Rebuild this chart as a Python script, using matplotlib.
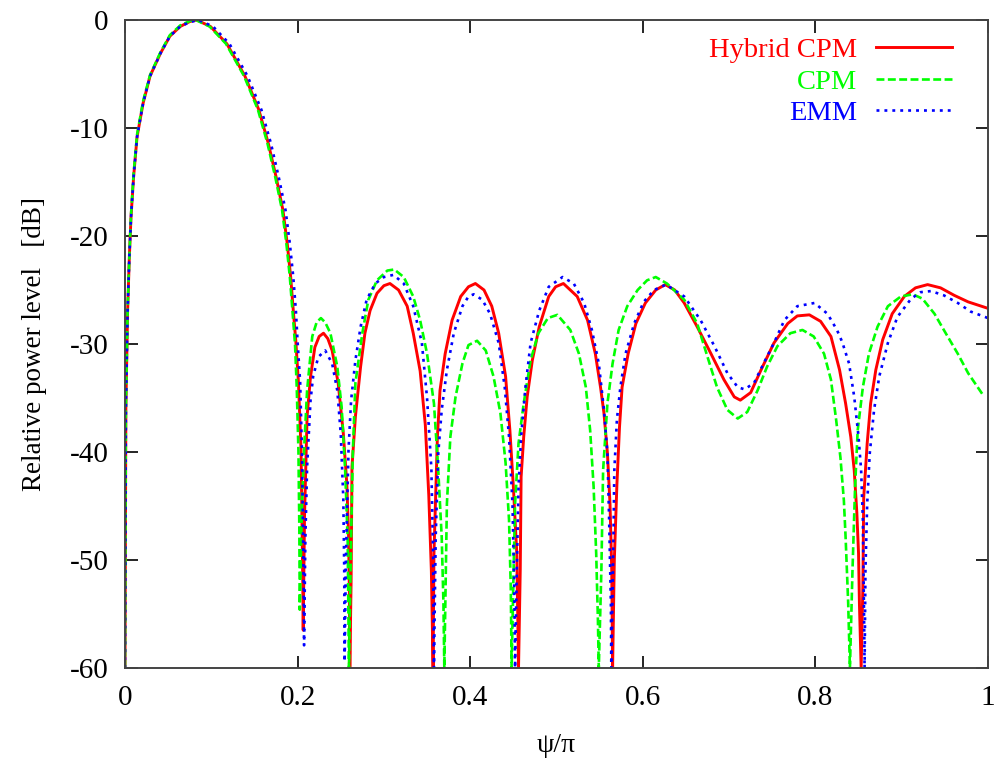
import matplotlib
matplotlib.use("Agg")
import matplotlib.pyplot as plt

plt.rcParams["font.family"] = ["Liberation Serif", "DejaVu Serif"]
plt.rcParams["axes.unicode_minus"] = False

# ---------------------------------------------------------------------------
# Data (x = psi/pi, y = relative level in dB)
# ---------------------------------------------------------------------------

hyb_x = [0.000, 0.001, 0.003, 0.005, 0.007, 0.010, 0.014, 0.021, 0.029, 0.041,
         0.052, 0.064, 0.075, 0.083, 0.099, 0.118, 0.139, 0.155, 0.166, 0.175,
         0.183, 0.188, 0.192, 0.195, 0.198, 0.201, 0.204, 0.205, 0.206, 0.2065,
         0.208, 0.209, 0.211, 0.215, 0.220, 0.225, 0.230, 0.235, 0.240, 0.247,
         0.253, 0.257, 0.259, 0.260, 0.2605, 0.262, 0.263, 0.267, 0.273, 0.278,
         0.284, 0.292, 0.300, 0.307, 0.317, 0.327, 0.334, 0.342, 0.348, 0.352,
         0.355, 0.357, 0.358, 0.362, 0.365, 0.371, 0.379, 0.389, 0.398, 0.406,
         0.416, 0.425, 0.433, 0.441, 0.446, 0.450, 0.454, 0.456, 0.458, 0.459,
         0.462, 0.466, 0.472, 0.480, 0.491, 0.499, 0.508, 0.524, 0.536, 0.545,
         0.551, 0.555, 0.559, 0.562, 0.564, 0.565, 0.567, 0.570, 0.573, 0.576,
         0.583, 0.592, 0.603, 0.615, 0.626, 0.637, 0.648, 0.663, 0.679, 0.694,
         0.706, 0.713, 0.725, 0.737, 0.752, 0.768, 0.779, 0.793, 0.806, 0.818,
         0.828, 0.835, 0.841, 0.845, 0.848, 0.850, 0.851, 0.853, 0.855, 0.856,
         0.860, 0.864, 0.870, 0.878, 0.889, 0.903, 0.916, 0.930, 0.945, 0.961,
         0.977, 1.000]
hyb_db = [-60, -36, -27, -22, -18.2, -14.5, -10.8, -7.7, -5.2, -3.1,
          -1.5, -0.6, -0.15, 0.0, -0.6, -2.2, -5.2, -8.3, -11.4, -14.5,
          -17.6, -20.7, -23.8, -26.9, -29.8, -33.6, -39.8, -46.0, -52.1, -56.5,
          -46.0, -42.9, -36.7, -33.0, -30.3, -29.3, -29.0, -29.5, -30.6, -33.6,
          -38.3, -42.9, -47.5, -53.0, -60, -52.0, -41.4, -36.7, -32.1, -29.0,
          -26.9, -25.3, -24.6, -24.4, -25.0, -26.5, -29.0, -32.5, -37.5, -44.0,
          -51.0, -60, -49.4, -38.6, -34.3, -30.9, -27.8, -25.6, -24.7, -24.4,
          -25.0, -26.5, -29.0, -33.0, -38.0, -43.2, -49.4, -60, -50.9, -42.3,
          -38.6, -34.9, -31.5, -28.4, -25.6, -24.7, -24.4, -25.6, -27.8, -30.9,
          -34.0, -36.4, -40.1, -44.8, -50.9, -60, -50.0, -43.0, -37.7, -34.0,
          -30.9, -28.1, -26.2, -25.0, -24.5, -25.0, -26.2, -28.4, -30.9, -33.3,
          -34.9, -35.2, -34.5, -32.4, -29.9, -28.1, -27.4, -27.3, -27.9, -29.3,
          -32.4, -35.5, -38.6, -41.7, -45.6, -49.4, -54.0, -60, -52.5, -44.2,
          -39.2, -35.5, -32.4, -29.6, -27.2, -25.6, -24.8, -24.5, -24.8, -25.5,
          -26.1, -26.7]

cpm_x = [0.000, 0.001, 0.003, 0.005, 0.007, 0.010, 0.014, 0.021, 0.029, 0.041,
         0.052, 0.064, 0.075, 0.082, 0.098, 0.117, 0.138, 0.154, 0.165, 0.174,
         0.182, 0.187, 0.191, 0.194, 0.197, 0.199, 0.201, 0.202, 0.2025, 0.205,
         0.208, 0.211, 0.217, 0.222, 0.227, 0.232, 0.238, 0.246, 0.251, 0.255,
         0.258, 0.2595, 0.262, 0.264, 0.267, 0.275, 0.282, 0.292, 0.304, 0.312,
         0.323, 0.334, 0.342, 0.350, 0.358, 0.363, 0.367, 0.369, 0.370, 0.372,
         0.373, 0.377, 0.383, 0.391, 0.398, 0.408, 0.418, 0.427, 0.435, 0.441,
         0.445, 0.447, 0.448, 0.450, 0.452, 0.456, 0.462, 0.470, 0.479, 0.490,
         0.501, 0.516, 0.526, 0.534, 0.539, 0.543, 0.546, 0.548, 0.549, 0.552,
         0.554, 0.559, 0.565, 0.572, 0.582, 0.594, 0.605, 0.615, 0.628, 0.648,
         0.663, 0.675, 0.686, 0.698, 0.710, 0.721, 0.733, 0.744, 0.756, 0.771,
         0.785, 0.798, 0.810, 0.818, 0.824, 0.829, 0.833, 0.835, 0.838, 0.840,
         0.843, 0.846, 0.849, 0.855, 0.862, 0.872, 0.884, 0.899, 0.913, 0.924,
         0.938, 0.951, 0.965, 0.977, 0.994]
cpm_db = [-60, -36, -27, -22, -18.0, -14.2, -10.6, -7.5, -5.1, -3.0,
          -1.4, -0.5, -0.1, 0.0, -0.6, -2.2, -5.2, -8.3, -11.4, -14.5,
          -17.6, -20.7, -23.8, -26.9, -30.0, -34.0, -40.0, -47.0, -54.6, -45.0,
          -39.0, -34.3, -29.3, -28.0, -27.6, -28.0, -29.0, -32.1, -35.8, -41.5,
          -48.0, -60, -48.0, -40.0, -33.6, -29.0, -25.9, -24.1, -23.2, -23.1,
          -23.8, -25.6, -27.8, -30.9, -35.5, -41.7, -47.9, -54.0, -60, -50.0,
          -44.8, -38.6, -34.9, -31.8, -30.1, -29.7, -30.6, -33.0, -36.4, -41.0,
          -46.3, -52.5, -60, -52.0, -44.8, -39.2, -35.5, -31.5, -29.0, -27.6,
          -27.3, -28.7, -30.9, -34.0, -38.0, -43.2, -49.4, -55.6, -60, -50.9,
          -41.7, -35.5, -31.8, -28.7, -26.5, -25.0, -24.1, -23.8, -24.4, -25.9,
          -28.1, -31.2, -34.0, -36.1, -36.9, -36.3, -34.3, -32.1, -30.2, -29.0,
          -28.7, -29.3, -30.9, -33.3, -37.0, -40.5, -44.5, -47.9, -54.0, -60,
          -50.9, -43.2, -38.0, -34.0, -30.9, -28.4, -26.5, -25.6, -25.4, -25.8,
          -27.2, -29.0, -30.9, -32.7, -34.7]

emm_x = [0.000, 0.001, 0.003, 0.005, 0.007, 0.010, 0.014, 0.021, 0.029, 0.041,
         0.052, 0.064, 0.075, 0.085, 0.102, 0.121, 0.142, 0.158, 0.169, 0.178,
         0.186, 0.191, 0.195, 0.198, 0.200, 0.203, 0.205, 0.206, 0.207, 0.2075,
         0.209, 0.211, 0.215, 0.218, 0.224, 0.232, 0.240, 0.246, 0.250, 0.253,
         0.254, 0.2545, 0.256, 0.259, 0.262, 0.267, 0.273, 0.280, 0.290, 0.300,
         0.311, 0.323, 0.334, 0.344, 0.350, 0.355, 0.357, 0.358, 0.360, 0.363,
         0.367, 0.373, 0.381, 0.391, 0.398, 0.404, 0.414, 0.423, 0.433, 0.440,
         0.445, 0.449, 0.451, 0.452, 0.454, 0.456, 0.459, 0.464, 0.470, 0.480,
         0.491, 0.507, 0.520, 0.532, 0.541, 0.549, 0.555, 0.559, 0.561, 0.563,
         0.5635, 0.566, 0.567, 0.570, 0.574, 0.580, 0.590, 0.601, 0.613, 0.627,
         0.648, 0.667, 0.683, 0.698, 0.710, 0.718, 0.729, 0.740, 0.752, 0.764,
         0.779, 0.799, 0.814, 0.825, 0.831, 0.839, 0.845, 0.850, 0.853, 0.855,
         0.856, 0.857, 0.858, 0.860, 0.863, 0.868, 0.874, 0.884, 0.895, 0.911,
         0.922, 0.934, 0.949, 0.965, 0.980, 1.000]
emm_db = [-60, -36, -27, -22, -18.2, -14.5, -10.8, -7.7, -5.2, -3.1,
          -1.5, -0.6, -0.2, 0.0, -0.6, -2.2, -5.2, -8.3, -11.4, -14.5,
          -17.6, -20.7, -23.8, -26.9, -29.8, -33.6, -39.8, -46.0, -52.0, -57.9,
          -48.0, -41.4, -35.2, -33.0, -31.2, -30.6, -31.8, -34.3, -38.3, -44.4,
          -50.6, -59.4, -50.0, -39.8, -35.2, -31.5, -28.4, -25.9, -24.4, -23.8,
          -23.6, -24.4, -26.5, -29.9, -35.0, -41.5, -49.5, -60, -47.9, -40.1,
          -36.1, -32.4, -29.0, -26.5, -25.6, -25.4, -25.9, -27.2, -29.9, -34.0,
          -38.6, -44.8, -52.5, -60, -50.9, -43.2, -38.6, -34.0, -29.9, -26.9,
          -24.7, -23.8, -24.4, -26.2, -28.7, -31.8, -36.1, -40.1, -46.3, -54.0,
          -60, -47.9, -41.7, -37.0, -34.0, -30.9, -28.1, -26.1, -25.0, -24.5,
          -25.6, -27.8, -30.2, -32.7, -34.0, -34.2, -33.6, -31.8, -29.9, -27.8,
          -26.5, -26.2, -27.2, -28.7, -29.8, -31.8, -34.9, -38.6, -41.7, -46.3,
          -52.5, -60, -50.9, -44.8, -40.1, -36.1, -33.0, -29.9, -27.5, -25.8,
          -25.2, -25.1, -25.5, -26.2, -27.0, -27.6]

x_ticks = [0, 0.2, 0.4, 0.6, 0.8, 1]
x_tick_labels = ["0", "0.2", "0.4", "0.6", "0.8", "1"]
y_ticks = [0, -10, -20, -30, -40, -50, -60]

# ---------------------------------------------------------------------------
# Plot
# ---------------------------------------------------------------------------

fig = plt.figure(figsize=(10, 7.72), dpi=100)
ax = fig.add_axes([0.125, 0.1347, 0.863, 0.8394])

ax.plot(hyb_x, hyb_db, color="#ff0000", linewidth=2.1, label="Hybrid CPM")
ax.plot(cpm_x, cpm_db, color="#00ff00", linewidth=1.9, linestyle=(0, (3.0, 1.3)),
        label="CPM")
ax.plot(emm_x, emm_db, color="#0000ff", linewidth=1.9, linestyle=(0, (1.1, 1.9)),
        label="EMM")

ax.set_xlim(0, 1)
ax.set_ylim(-60, 0)
ax.set_xticks(x_ticks)
ax.set_xticklabels(x_tick_labels)
ax.set_yticks(y_ticks)
ax.tick_params(direction="in", length=9, width=1.2, top=True, right=True,
               labelsize=21, pad=12, colors="black")
for sp in ax.spines.values():
    sp.set_color("#444444")
    sp.set_linewidth(1.4)

ax.set_xlabel("\u03c8/\u03c0", fontsize=20, labelpad=16)
ax.set_ylabel("Relative power level   [dB]", fontsize=19.5, labelpad=16)

leg = ax.legend(loc="upper right", bbox_to_anchor=(0.978, 1.0), frameon=False,
                markerfirst=False, fontsize=20.5, handlelength=2.67,
                handletextpad=0.67, labelspacing=0.2, labelcolor="linecolor",
                borderaxespad=0.2)

fig.savefig("out.png", dpi=100)
